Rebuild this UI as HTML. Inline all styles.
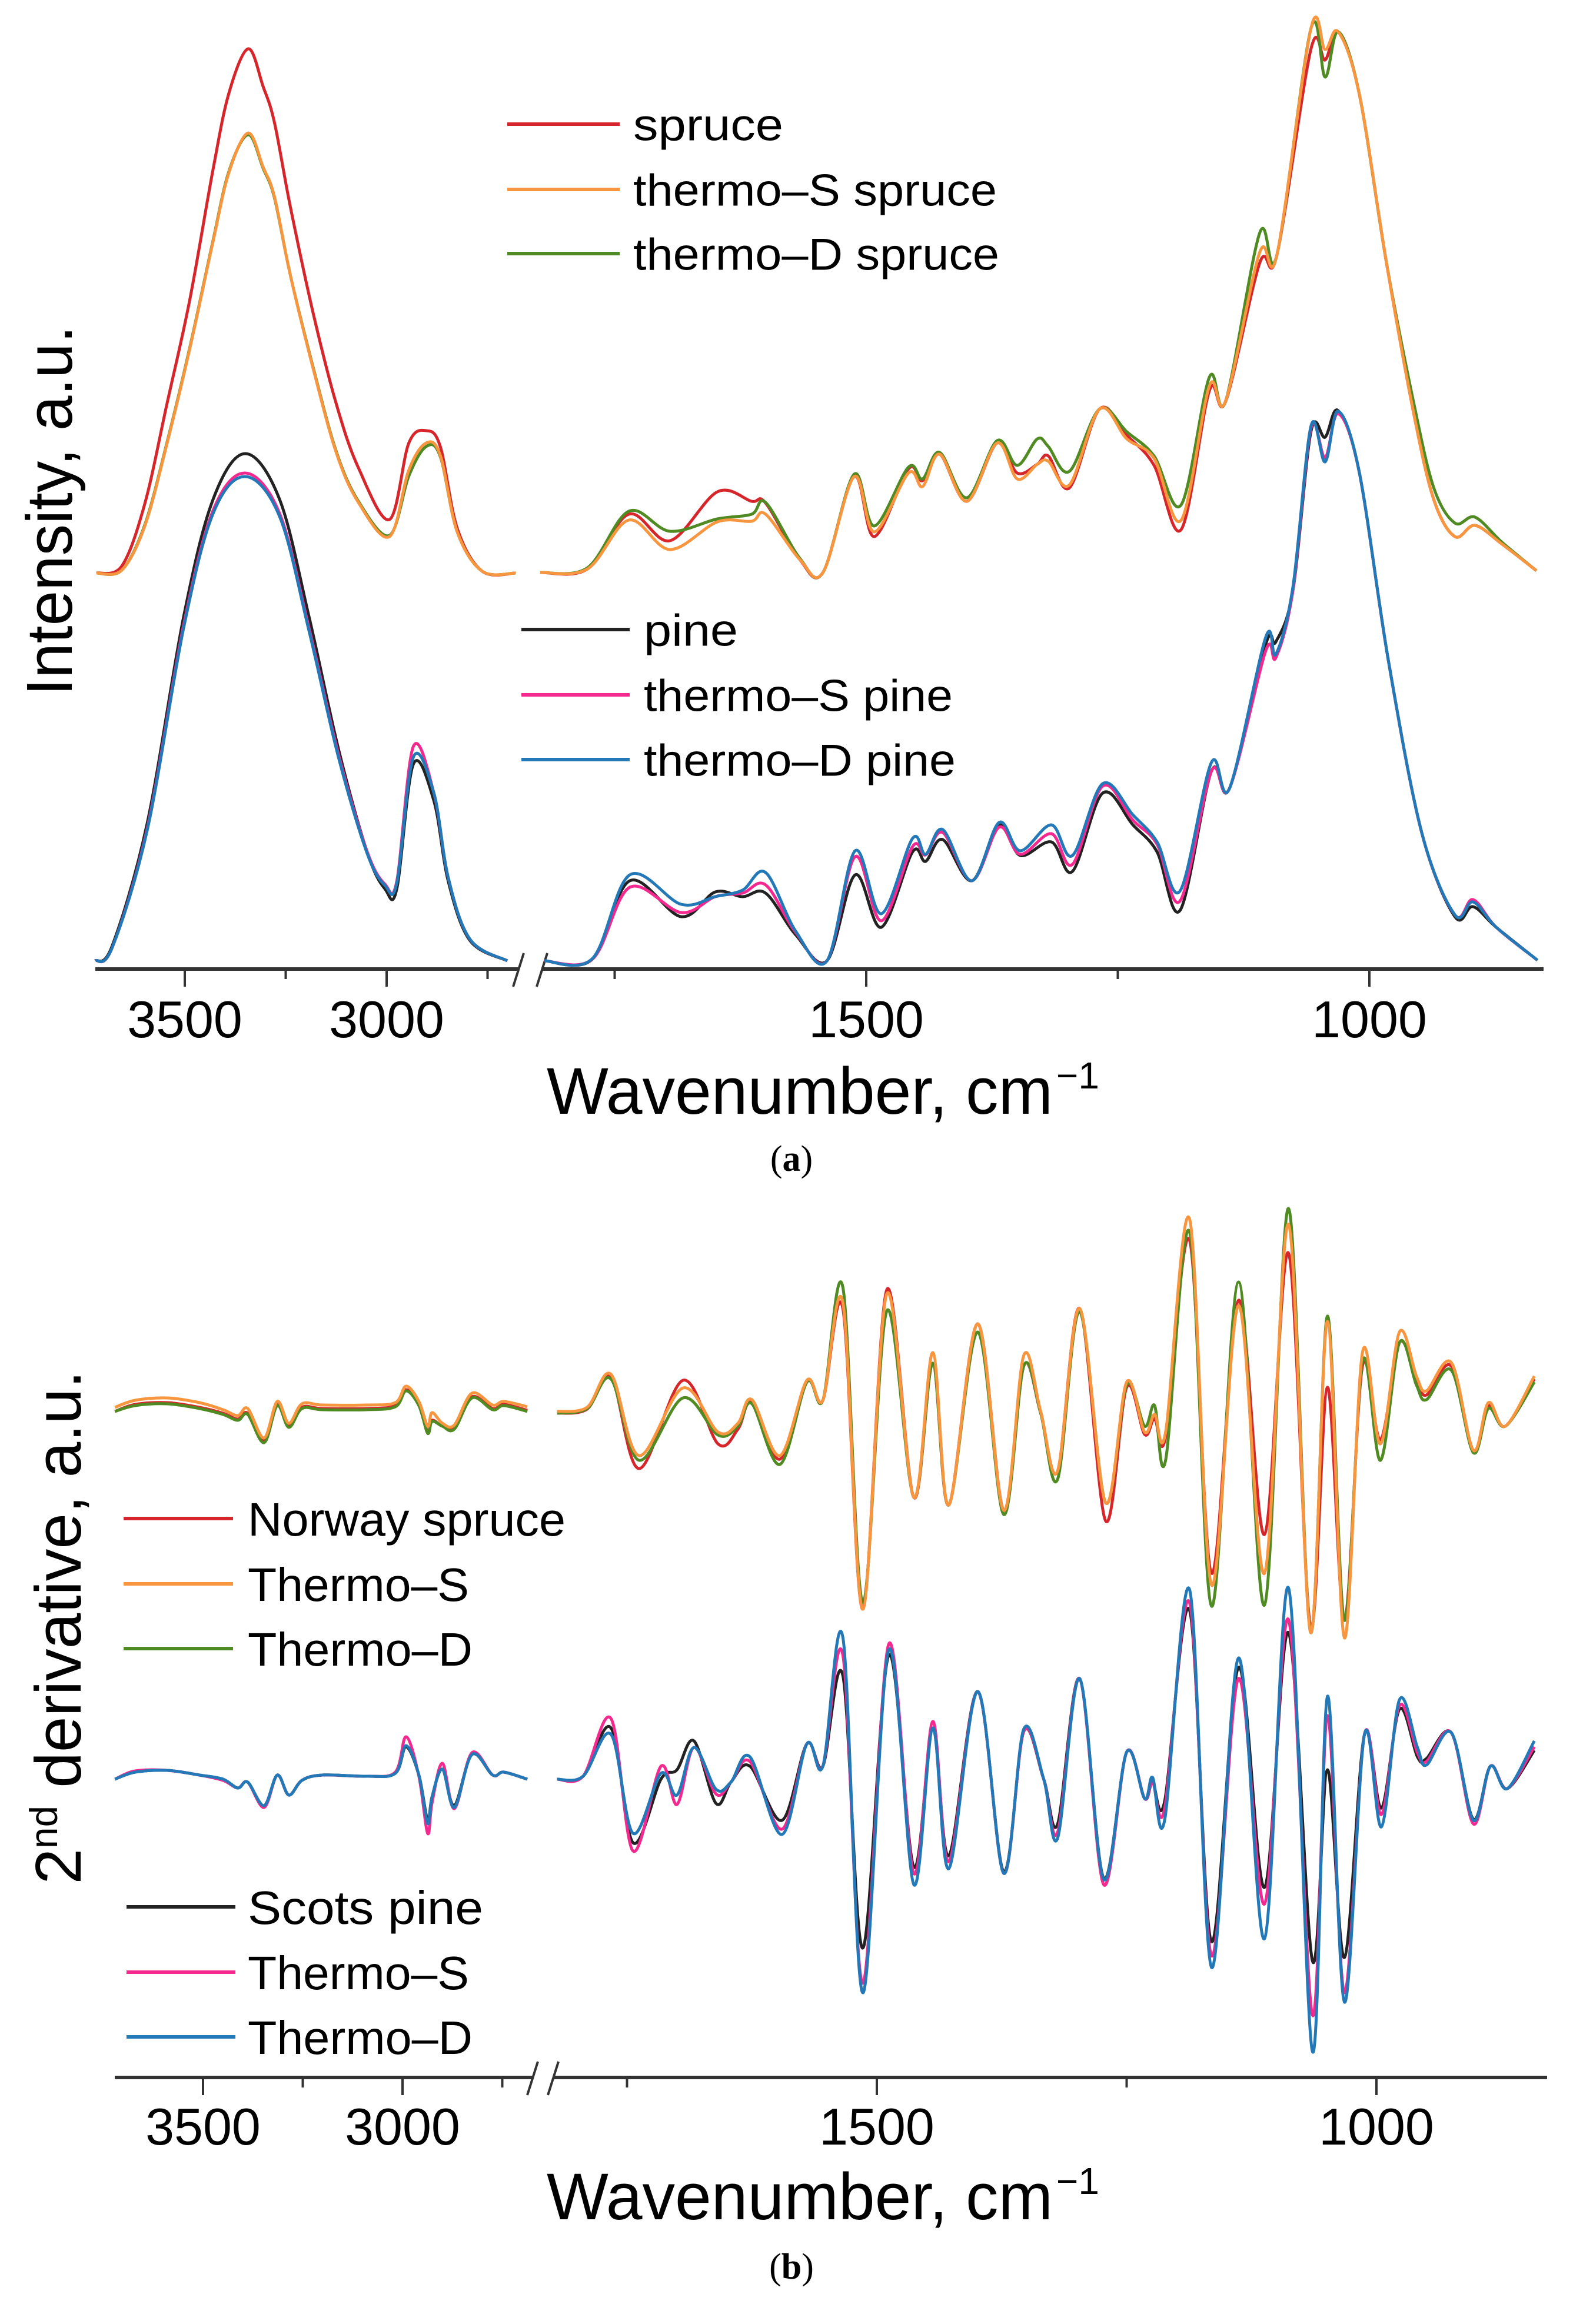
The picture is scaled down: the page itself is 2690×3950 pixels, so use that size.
<!DOCTYPE html>
<html><head><meta charset="utf-8"><title>FTIR spectra</title>
<style>html,body{margin:0;padding:0;background:#fff}svg{display:block}</style></head>
<body>
<svg id="fig" xmlns="http://www.w3.org/2000/svg" width="2690" height="3950" viewBox="0 0 2690 3950" font-family="Liberation Sans, Arial, sans-serif">
<rect width="2690" height="3950" fill="#fff"/>
<g id="axes"></g>
<g id="curves"></g>
<text transform="translate(122,868) rotate(-90)" text-anchor="middle" font-size="110" textLength="629" lengthAdjust="spacingAndGlyphs">Intensity, a.u.</text>
<text x="929" y="1893" font-size="112" textLength="860" lengthAdjust="spacingAndGlyphs">Wavenumber, cm</text>
<text x="1795" y="1850" font-size="64">−1</text>
<text x="1345" y="1990" text-anchor="middle" font-family="Liberation Serif, serif" font-size="62">(<tspan font-weight="bold">a</tspan>)</text>
<text transform="translate(137,2766) rotate(-90)" text-anchor="middle" font-size="110" textLength="873" lengthAdjust="spacingAndGlyphs">2<tspan font-size="66" dy="-40">nd</tspan><tspan dy="40"> derivative, a.u.</tspan></text>
<text x="929" y="3772" font-size="112" textLength="860" lengthAdjust="spacingAndGlyphs">Wavenumber, cm</text>
<text x="1795" y="3729" font-size="64">−1</text>
<text x="1345" y="3873" text-anchor="middle" font-family="Liberation Serif, serif" font-size="62">(<tspan font-weight="bold">b</tspan>)</text>
<g id="legends"></g>
</svg>
<script>
// ---------- Panel (a) data ----------
const aSpruceWn = [3719,3656,3599,3544,3488,3431,3391,3343,3306,3278,3238,3181,3125,3070,2993,2945,2902,2867,2825,2763,2680,
 1824,1777,1736,1695,1648,1614,1600,1566,1543,1512,1492,1458,1444,1427,1400,1370,1350,1330,1319,1298,1268,1241,1214,1187,1159,1143,1109,1092,1058,1044,1031,1010,983,956,936,915,895,868,834];
const aSpruce = [0,12,118,288,463,682,815,891,827,766,621,439,288,179,91,221,242,215,76,3,0,
 1,7,100,55,138,122,119,23,1,164,62,177,157,202,122,221,170,185,199,145,279,234,183,74,310,291,527,540,891,872,920,814,527,272,125,62,81,49,4];
const aThermoSSpruce = [0,5,80,220,380,560,680,748,690,640,505,345,205,120,62,175,221,200,70,3,0,
 1,7,90,40,87,88,100,23,1,164,70,170,147,202,122,221,160,185,190,150,279,228,195,90,318,292,545,540,926,890,920,814,527,272,125,62,81,49,4];
const aThermoDSpruce = [0,5,82,222,382,562,682,745,688,638,505,347,207,122,64,165,215,198,70,3,0,
 1,9,105,71,92,100,120,25,1,168,80,180,160,205,128,225,183,228,215,173,279,240,199,116,333,292,578,540,926,843,920,814,527,290,145,85,95,52,4];

const aPineWn = [3722,3680,3593,3503,3430,3350,3265,3192,3119,3048,3004,2975,2934,2883,2847,2793,2701,
 1820,1772,1735,1684,1650,1623,1600,1570,1539,1511,1485,1454,1441,1424,1395,1368,1347,1316,1295,1265,1235,1211,1188,1157,1139,1103,1093,1076,1058,1044,1031,1010,981,948,915,897,874,833];
const aPine = [0,25,234,584,784,862,784,584,359,184,122,122,334,272,134,34,0,
 0,3,136,75,117,109,115,44,0,146,57,185,169,206,136,231,179,202,152,285,231,185,86,322,293,538,542,629,900,890,935,830,509,218,75,92,57,1];
const aThermoSPine = [0,22,225,570,765,829,760,565,350,185,130,135,364,285,140,36,0,
 0,3,125,82,109,115,129,48,0,177,68,194,180,218,136,227,181,216,164,297,239,198,102,322,293,527,515,629,905,855,930,830,509,218,78,104,57,1];
const aThermoDPine = [0,22,222,565,760,823,755,560,345,182,128,132,346,285,140,36,0,
 0,4,146,96,109,120,150,50,0,187,80,208,181,223,136,235,187,231,179,301,248,202,119,337,293,550,521,635,909,848,934,830,509,218,78,100,57,1];

// ---------- Panel (b) data ----------
const bLeftWn = [3721,3670,3590,3509,3450,3413,3388,3347,3314,3285,3252,3201,3090,3018,2991,2959,2937,2926,2900,2870,2826,2774,2746,2687];
const bSpruceLeft = [-5,7,10,2,-8,-18,-8,-55,7,-30,2,0,0,5,32,7,-40,-20,-30,-30,20,0,7,-3];
const bThermoSSpruceLeft = [2,14,18,10,-2,-12,0,-50,12,-25,8,6,6,10,38,12,-30,-7,-25,-28,26,6,12,3];
const bThermoDSpruceLeft = [-5,5,8,0,-10,-20,-10,-58,5,-32,0,-2,-2,3,30,5,-42,-22,-30,-35,18,-2,5,-5];
const bPineLeft = [0,12,15,7,0,-15,-5,-45,7,-27,-2,7,5,10,55,7,-70,-30,17,-45,42,7,12,0];
const bThermoSPineLeft = [0,14,15,7,-2,-15,-5,-48,7,-27,-2,7,5,12,72,5,-92,-40,27,-50,45,7,12,0];
const bThermoDPineLeft = [0,12,15,7,0,-15,-5,-45,7,-27,-2,7,5,10,57,7,-75,-30,17,-48,42,7,12,0];

const bSpruceRightWn = [1820,1790,1766,1738,1694,1659,1639,1625,1597,1570,1554,1534,1514,1490,1463,1444,1428,1399,1373,1353,1336,1319,1297,1271,1250,1232,1222,1211,1187,1165,1138,1112,1088,1066,1049,1032,1014,996,977,960,950,925,903,888,871,842];
const bSpruceRight = [-8,-1,54,-102,48,-60,-35,10,-86,45,14,170,-341,202,-151,77,-164,144,-173,72,-8,-106,170,-191,36,-44,-17,-48,286,-280,184,-214,264,-370,36,-360,72,-53,112,50,23,72,-71,5,-30,50];
const bThermoSSpruceRight = [-5,2,58,-80,35,-40,-25,15,-80,48,14,180,-341,195,-151,95,-164,144,-173,90,-5,-106,170,-160,45,-40,-10,-40,322,-300,175,-280,313,-380,148,-390,95,-60,130,55,30,78,-71,10,-30,55];
const bThermoDSpruceRight = [-8,0,50,-88,18,-45,-30,8,-95,45,14,206,-330,166,-151,77,-164,130,-180,72,-8,-120,165,-160,40,-30,5,-88,300,-336,215,-334,340,-380,157,-360,80,-88,112,40,15,65,-75,0,-30,45];

const bPineRightWn = [1820,1794,1766,1744,1716,1700,1683,1661,1646,1627,1595,1570,1554,1534,1514,1488,1463,1444,1428,1399,1373,1353,1333,1319,1297,1273,1250,1232,1224,1212,1187,1165,1138,1112,1088,1064,1049,1032,1012,995,977,959,950,925,903,886,869,842];
const bPineRight = [0,5,87,-108,0,16,65,-41,-5,22,-70,60,22,176,-287,211,-149,87,-130,149,-157,81,0,-76,171,-168,46,-33,-5,-38,287,-276,190,-184,249,-309,16,-303,76,-49,119,38,35,79,-68,22,-16,49];
const bThermoSPineRight = [0,5,103,-122,22,-43,54,-25,-5,30,-85,60,22,211,-347,230,-160,98,-140,149,-160,81,0,-90,171,-179,46,-33,-5,-50,300,-300,171,-212,271,-401,108,-363,76,-60,125,45,30,79,-76,22,-16,55];
const bThermoDPineRight = [0,5,76,-92,10,-27,54,-17,-5,38,-94,60,22,241,-363,220,-179,87,-152,149,-160,85,0,-100,171,-170,46,-33,3,-70,322,-320,206,-271,325,-463,141,-379,76,-81,135,54,24,79,-70,22,-16,65];

const tickLabels = ['3500','3000','1500','1000'];
const majorTicks = [3500,3000,1500,1000];
const minorTicks = [3250,2750,1750,1250];

const NS = 'http://www.w3.org/2000/svg';
const COL = {red:'#d7262b', orange:'#f7963f', green:'#4f8a22', black:'#222222', magenta:'#f5288f', blue:'#2379b8'};

function xA(w){ return w >= 2600 ? 314 + (3500 - w) * 0.686 : 1472 + (1500 - w) * 1.71; }
function xB(w){ return w >= 2600 ? 345 + (3500 - w) * 0.678 : 1490 + (1500 - w) * 1.698; }
function yLin(base){ return v => base - v; }

function el(tag, attrs, parent){ const e = document.createElementNS(NS, tag); for (const k in attrs) e.setAttribute(k, attrs[k]); parent.appendChild(e); return e; }

function smoothPath(pts){
  if (pts.length < 2) return '';
  let d = 'M' + pts[0][0].toFixed(1) + ',' + pts[0][1].toFixed(1);
  for (let i = 0; i < pts.length - 1; i++){
    const p0 = pts[i-1] || pts[i], p1 = pts[i], p2 = pts[i+1], p3 = pts[i+2] || p2;
    const t = 6;
    const c1 = [p1[0] + (p2[0]-p0[0])/t, p1[1] + (p2[1]-p0[1])/t];
    const c2 = [p2[0] - (p3[0]-p1[0])/t, p2[1] - (p3[1]-p1[1])/t];
    d += 'C' + c1[0].toFixed(1)+','+c1[1].toFixed(1)+' '+c2[0].toFixed(1)+','+c2[1].toFixed(1)+' '+p2[0].toFixed(1)+','+p2[1].toFixed(1);
  }
  return d;
}

const curvesG = document.getElementById('curves');
function drawSeries(name, wn, vals, xf, yf, color){
  const left = [], right = [];
  for (let i = 0; i < wn.length; i++){
    const p = [xf(wn[i]), yf(vals[i])];
    (wn[i] >= 2600 ? left : right).push(p);
  }
  [left, right].forEach((seg, k) => {
    if (seg.length < 2) return;
    const p = el('path', {d: smoothPath(seg), fill:'none', stroke: color, 'stroke-width': 5, 'stroke-linejoin':'round'}, curvesG);
    
    
  });
}

const yAu = yLin(974), yAl = yLin(1633);
drawSeries('spruce-line', aSpruceWn, aSpruce, xA, yAu, COL.red);
drawSeries('thermo-d-spruce-line', aSpruceWn, aThermoDSpruce, xA, yAu, COL.green);
drawSeries('thermo-s-spruce-line', aSpruceWn, aThermoSSpruce, xA, yAu, COL.orange);
drawSeries('pine-line', aPineWn, aPine, xA, yAl, COL.black);
drawSeries('thermo-s-pine-line', aPineWn, aThermoSPine, xA, yAl, COL.magenta);
drawSeries('thermo-d-pine-line', aPineWn, aThermoDPine, xA, yAl, COL.blue);

const yBt = yLin(2394), yBb = yLin(3024);
drawSeries('norway-spruce-deriv-line', bLeftWn, bSpruceLeft, xB, yBt, COL.red);
drawSeries('norway-spruce-deriv-line', bSpruceRightWn, bSpruceRight, xB, yBt, COL.red);
drawSeries('thermo-d-spruce-deriv-line', bLeftWn, bThermoDSpruceLeft, xB, yBt, COL.green);
drawSeries('thermo-d-spruce-deriv-line', bSpruceRightWn, bThermoDSpruceRight, xB, yBt, COL.green);
drawSeries('thermo-s-spruce-deriv-line', bLeftWn, bThermoSSpruceLeft, xB, yBt, COL.orange);
drawSeries('thermo-s-spruce-deriv-line', bSpruceRightWn, bThermoSSpruceRight, xB, yBt, COL.orange);
drawSeries('scots-pine-deriv-line', bLeftWn, bPineLeft, xB, yBb, COL.black);
drawSeries('scots-pine-deriv-line', bPineRightWn, bPineRight, xB, yBb, COL.black);
drawSeries('thermo-s-pine-deriv-line', bLeftWn, bThermoSPineLeft, xB, yBb, COL.magenta);
drawSeries('thermo-s-pine-deriv-line', bPineRightWn, bThermoSPineRight, xB, yBb, COL.magenta);
drawSeries('thermo-d-pine-deriv-line', bLeftWn, bThermoDPineLeft, xB, yBb, COL.blue);
drawSeries('thermo-d-pine-deriv-line', bPineRightWn, bThermoDPineRight, xB, yBb, COL.blue);

const axesG = document.getElementById('axes');
function drawAxis(tag, xf, y0, x1, xBreakL, xBreakR, x2, labelY){
  const g = el('g', {}, axesG);
  
  
  const l1 = el('line', {x1: x1, y1: y0, x2: xBreakL, y2: y0, stroke:'#333', 'stroke-width': 6}, g);
  
  
  const l2 = el('line', {x1: xBreakR, y1: y0, x2: x2, y2: y0, stroke:'#333', 'stroke-width': 6}, g);
  
  
  [xBreakL, xBreakR].forEach(bx => {
    const s = el('line', {x1: bx - 9, y1: y0 + 30, x2: bx + 9, y2: y0 - 27, stroke:'#333', 'stroke-width': 4}, g);
    
    
  });
  majorTicks.forEach((w, i) => {
    const x = xf(w);
    const t = el('line', {x1: x, y1: y0, x2: x, y2: y0 + 30, stroke:'#333', 'stroke-width': 4}, g);
    
    
    const tx = el('text', {x: x, y: labelY, 'text-anchor':'middle', 'font-size': 88}, g);
    tx.textContent = tickLabels[i];
    
    
  });
  minorTicks.forEach(w => {
    const x = xf(w);
    const t = el('line', {x1: x, y1: y0, x2: x, y2: y0 + 17, stroke:'#333', 'stroke-width': 4}, g);
    
    
  });
}
drawAxis('a', xA, 1647, 162, 881, 921, 2623, 1763);
drawAxis('b', xB, 3531, 195, 905, 940, 2629, 3645);

const legG = document.getElementById('legends');
function legendEntry(name, label, color, xl1, xl2, xt, y, fs, tlen){
  const g = el('g', {}, legG);
  
  
  const l = el('line', {x1: xl1, y1: y, x2: xl2, y2: y, stroke: color, 'stroke-width': 6}, g);
  
  
  const t = el('text', {x: xt, y: y + fs * 0.36, 'font-size': fs, textLength: tlen, lengthAdjust: 'spacingAndGlyphs'}, g);
  t.textContent = label;
  
  
}
legendEntry('legend-entry-spruce', 'spruce', COL.red, 862, 1053, 1076, 211, 76, 255);
legendEntry('legend-entry-thermo-s-spruce', 'thermo–S spruce', COL.orange, 862, 1053, 1076, 322, 76, 618);
legendEntry('legend-entry-thermo-d-spruce', 'thermo–D spruce', COL.green, 862, 1053, 1076, 431, 76, 622);
legendEntry('legend-entry-pine', 'pine', COL.black, 886, 1070, 1094, 1070, 76, 160);
legendEntry('legend-entry-thermo-s-pine', 'thermo–S pine', COL.magenta, 886, 1070, 1094, 1181, 76, 525);
legendEntry('legend-entry-thermo-d-pine', 'thermo–D pine', COL.blue, 886, 1070, 1094, 1291, 76, 530);
legendEntry('legend-entry-norway-spruce', 'Norway spruce', COL.red, 210, 396, 421, 2581, 80, 540);
legendEntry('legend-entry-thermo-s-spruce-b', 'Thermo–S', COL.orange, 210, 396, 421, 2692, 80, 376);
legendEntry('legend-entry-thermo-d-spruce-b', 'Thermo–D', COL.green, 210, 396, 421, 2802, 80, 382);
legendEntry('legend-entry-scots-pine', 'Scots pine', COL.black, 215, 400, 421, 3241, 80, 400);
legendEntry('legend-entry-thermo-s-pine-b', 'Thermo–S', COL.magenta, 215, 400, 421, 3352, 80, 376);
legendEntry('legend-entry-thermo-d-pine-b', 'Thermo–D', COL.blue, 215, 400, 421, 3462, 80, 382);
</script>
</body></html>
